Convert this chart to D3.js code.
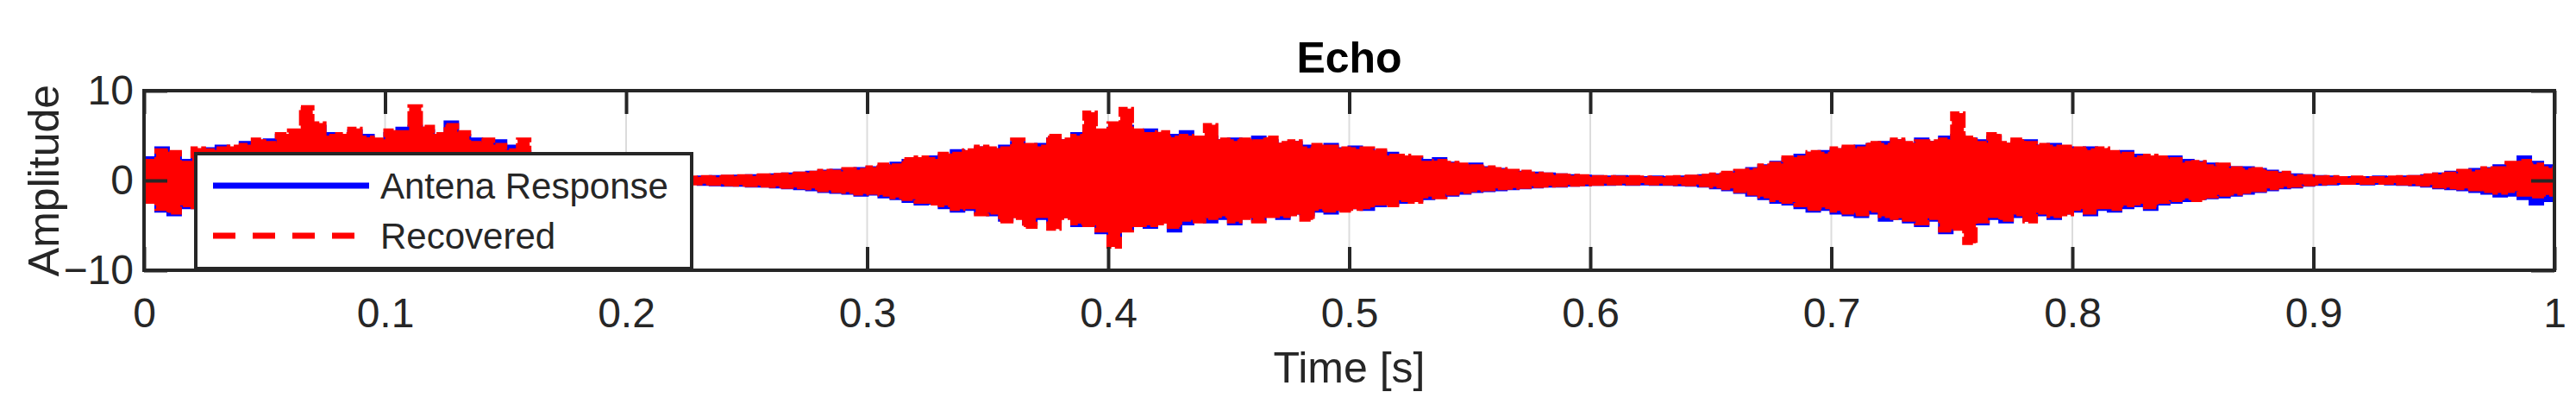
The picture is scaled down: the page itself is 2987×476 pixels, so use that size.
<!DOCTYPE html>
<html>
<head>
<meta charset="utf-8">
<script src="https://cdn.jsdelivr.net/npm/d3@7"></script>
<style>
  body { margin: 0; background: #fff; }
  text { font-family: "Liberation Sans", Arial, sans-serif; }
</style>
</head>
<body>
<svg id="chart" width="2987" height="476"></svg>
<script>
// Echo signal: per-5 ms bin upper / lower extent of the dense waveform
const dt = 0.005;
const antennaHi = [
  2.5, 3.6, 3.0, 2.2, 3.2, 3.5, 3.8, 3.5, 4.2, 4.0,
  4.5, 5.0, 4.8, 5.5, 6.0, 5.2, 4.8, 5.5, 5.0, 4.5,
  5.2, 5.8, 6.0, 5.5, 4.8, 6.5, 5.0, 4.6, 4.2, 4.4,
  3.8, 3.2, 0.5, 0.4, 0.4, 0.35, 0.35, 0.3, 0.35, 0.3,
  0.3, 0.35, 0.3, 0.3, 0.35, 0.3, 0.35, 0.4, 0.4, 0.45,
  0.5, 0.55, 0.6, 0.7, 0.8, 0.9, 1.0, 1.1, 1.2, 1.3,
  1.4, 1.6, 1.9, 2.2, 2.4, 2.6, 2.8, 3.3, 3.0, 3.6,
  3.4, 3.8, 4.2, 3.6, 4.0, 4.6, 4.4, 5.2, 5.4, 5.0,
  5.8, 6.0, 5.2, 5.6, 4.8, 5.0, 5.4, 4.6, 4.8, 4.4,
  4.6, 4.2, 4.8, 4.4, 4.0, 4.2, 3.8, 3.6, 4.0, 3.5,
  3.7, 3.4, 3.2, 3.0, 2.6, 2.4, 2.2, 2.4, 1.9, 1.6,
  1.8, 1.4, 1.2, 1.0, 0.9, 0.8, 0.7, 0.6, 0.5, 0.45,
  0.4, 0.35, 0.4, 0.35, 0.3, 0.35, 0.3, 0.35, 0.4, 0.5,
  0.6, 0.8, 1.0, 1.3, 1.6, 2.0, 2.4, 2.8, 3.0, 3.2,
  3.4, 3.6, 3.8, 4.0, 4.2, 4.4, 4.0, 4.6, 4.2, 4.8,
  5.0, 4.6, 4.4, 4.8, 4.0, 4.2, 4.4, 3.8, 4.0, 3.6,
  3.4, 3.6, 3.2, 3.0, 3.2, 2.8, 2.6, 2.4, 2.6, 2.2,
  2.0, 1.8, 1.6, 1.4, 1.4, 1.2, 1.0, 0.8, 0.6, 0.5,
  0.4, 0.35, 0.3, 0.3, 0.3, 0.35, 0.3, 0.35, 0.4, 0.5,
  0.7, 0.9, 1.0, 1.2, 1.3, 1.6, 1.8, 2.6, 2.0, 1.6
];
const antennaLo = [
  -2.0, -3.4, -3.8, -3.0, -3.0, -3.2, -3.0, -3.4, -3.0, -3.2,
  -3.4, -3.0, -3.2, -3.5, -3.0, -3.3, -3.0, -3.2, -3.4, -3.0,
  -3.2, -3.0, -3.3, -3.0, -3.2, -3.0, -2.8, -3.0, -2.6, -2.4,
  -2.0, -1.6, -0.5, -0.4, -0.45, -0.35, -0.4, -0.3, -0.35, -0.4,
  -0.3, -0.35, -0.3, -0.4, -0.35, -0.3, -0.4, -0.45, -0.5, -0.5,
  -0.6, -0.6, -0.7, -0.8, -0.9, -1.0, -1.2, -1.3, -1.4, -1.6,
  -1.5, -1.8, -2.0, -2.3, -2.6, -2.5, -3.0, -3.4, -3.2, -3.6,
  -3.8, -4.4, -3.9, -4.8, -4.2, -4.6, -4.0, -5.0, -4.6, -5.8,
  -6.4, -5.4, -4.8, -5.2, -4.6, -5.6, -4.8, -4.4, -4.6, -4.2,
  -4.8, -4.0, -4.4, -3.8, -4.2, -3.6, -3.8, -3.4, -3.6, -3.2,
  -3.0, -3.2, -2.8, -2.6, -2.4, -2.2, -2.0, -1.8, -1.6, -1.4,
  -1.2, -1.1, -1.0, -0.9, -0.8, -0.7, -0.6, -0.6, -0.5, -0.45,
  -0.4, -0.4, -0.35, -0.4, -0.35, -0.4, -0.4, -0.45, -0.5, -0.6,
  -0.8, -1.0, -1.3, -1.6, -2.0, -2.4, -2.6, -3.0, -3.4, -3.2,
  -3.6, -3.8, -4.0, -3.6, -4.4, -4.2, -4.6, -5.0, -4.4, -5.8,
  -5.2, -4.6, -4.8, -4.2, -4.6, -4.0, -4.4, -3.8, -4.2, -3.6,
  -3.4, -3.8, -3.2, -3.4, -3.0, -2.8, -3.2, -2.6, -2.4, -2.2,
  -2.0, -1.9, -1.8, -1.6, -1.4, -1.2, -1.0, -0.8, -0.7, -0.5,
  -0.4, -0.35, -0.3, -0.3, -0.35, -0.3, -0.35, -0.4, -0.45, -0.6,
  -0.8, -0.9, -1.0, -1.2, -1.4, -1.7, -1.6, -2.0, -2.6, -2.2
];
const recoveredHi = [
  2.2, 3.4, 3.2, 2.0, 3.6, 3.4, 3.6, 3.8, 4.0, 4.6,
  4.2, 5.2, 5.6, 8.2, 6.4, 5.0, 5.2, 5.8, 4.8, 4.6,
  5.6, 5.4, 8.3, 6.0, 5.2, 6.2, 5.4, 4.2, 4.6, 4.0,
  3.4, 4.6, 0.4, 0.45, 0.35, 0.4, 0.3, 0.35, 0.3, 0.35,
  0.35, 0.3, 0.35, 0.3, 0.3, 0.35, 0.4, 0.35, 0.45, 0.5,
  0.5, 0.6, 0.65, 0.7, 0.8, 0.9, 1.1, 1.0, 1.3, 1.2,
  1.5, 1.8, 1.7, 2.4, 2.6, 2.4, 3.0, 3.0, 3.4, 3.8,
  3.6, 3.6, 4.6, 4.0, 3.8, 5.0, 4.6, 5.0, 7.6, 5.6,
  6.4, 8.0, 5.6, 5.2, 5.4, 4.8, 5.0, 4.8, 6.2, 4.6,
  4.4, 4.6, 4.4, 4.8, 4.2, 4.4, 3.6, 4.0, 3.8, 3.6,
  3.5, 3.6, 3.4, 2.8, 2.8, 2.6, 2.0, 2.2, 2.0, 1.8,
  1.6, 1.5, 1.3, 1.1, 1.0, 0.8, 0.7, 0.6, 0.55, 0.5,
  0.4, 0.4, 0.35, 0.4, 0.35, 0.3, 0.35, 0.4, 0.45, 0.55,
  0.7, 0.9, 1.1, 1.2, 1.7, 1.9, 2.6, 2.6, 3.2, 3.0,
  3.6, 3.8, 3.6, 4.2, 4.0, 4.6, 4.2, 4.4, 4.4, 4.6,
  7.5, 4.8, 4.2, 5.2, 4.2, 4.6, 4.2, 4.0, 3.8, 3.8,
  3.6, 3.4, 3.6, 3.2, 3.0, 2.6, 2.8, 2.6, 2.4, 2.0,
  2.1, 1.6, 1.8, 1.4, 1.2, 1.3, 0.9, 0.9, 0.5, 0.5,
  0.35, 0.4, 0.3, 0.35, 0.3, 0.3, 0.35, 0.4, 0.4, 0.6,
  0.7, 0.8, 1.1, 1.0, 1.4, 1.4, 2.0, 2.2, 1.8, 1.4
];
const recoveredLo = [
  -2.4, -3.2, -3.6, -2.8, -3.0, -3.2, -3.0, -3.4, -3.0, -3.2,
  -3.4, -3.0, -3.2, -3.5, -3.0, -3.3, -3.0, -3.2, -3.4, -3.0,
  -3.2, -3.0, -3.3, -3.0, -3.2, -3.0, -2.8, -3.0, -2.6, -2.4,
  -2.0, -1.6, -0.45, -0.4, -0.4, -0.35, -0.35, -0.35, -0.3, -0.35,
  -0.35, -0.3, -0.35, -0.35, -0.3, -0.35, -0.35, -0.4, -0.45, -0.5,
  -0.55, -0.6, -0.65, -0.75, -0.8, -0.9, -1.1, -1.2, -1.3, -1.5,
  -1.4, -1.6, -1.9, -2.1, -2.4, -2.6, -2.8, -3.2, -3.0, -3.8,
  -3.6, -4.6, -4.2, -5.2, -4.0, -5.4, -4.2, -4.8, -5.0, -5.6,
  -7.4, -5.6, -5.0, -5.0, -4.8, -5.2, -4.4, -4.6, -4.2, -4.0,
  -4.6, -4.2, -4.6, -4.0, -4.0, -3.8, -4.4, -3.2, -3.4, -3.4,
  -3.2, -3.0, -2.6, -2.8, -2.2, -2.4, -1.8, -1.9, -1.5, -1.3,
  -1.1, -1.0, -0.9, -0.85, -0.75, -0.65, -0.6, -0.55, -0.5, -0.45,
  -0.4, -0.35, -0.35, -0.35, -0.3, -0.35, -0.35, -0.4, -0.45, -0.55,
  -0.7, -0.9, -1.2, -1.5, -1.8, -2.2, -2.4, -2.8, -3.2, -3.0,
  -3.4, -3.6, -3.8, -3.4, -4.0, -4.2, -4.4, -4.8, -4.2, -5.6,
  -5.4, -7.0, -4.6, -4.0, -4.4, -3.8, -4.6, -3.6, -4.0, -3.8,
  -3.2, -3.6, -3.0, -3.2, -2.8, -2.6, -3.0, -2.4, -2.2, -2.0,
  -2.2, -1.8, -1.6, -1.5, -1.3, -1.1, -0.9, -0.7, -0.6, -0.45,
  -0.35, -0.3, -0.3, -0.3, -0.3, -0.3, -0.3, -0.35, -0.4, -0.5,
  -0.7, -0.8, -0.9, -1.0, -1.2, -1.4, -1.2, -1.6, -1.8, -1.6
];
const xTicks = [0, 0.1, 0.2, 0.3, 0.4, 0.5, 0.6, 0.7, 0.8, 0.9, 1];
const yTicks = [-10, 0, 10];
const seriesNames = ["Antena Response", "Recovered"];

const svg = d3.select("#chart");
const mLeft = 167, mRight = 2962, mTop = 105, mBottom = 313;

const x = d3.scaleLinear().domain([0, 1]).range([mLeft, mRight]);
const y = d3.scaleLinear().domain([-10, 10]).range([mBottom, mTop]);

// grid
svg.append("g").selectAll("line")
  .data(xTicks.slice(1, -1))
  .join("line")
  .attr("x1", d => x(d)).attr("x2", d => x(d))
  .attr("y1", mTop).attr("y2", mBottom)
  .attr("stroke", "#dcdcdc").attr("stroke-width", 2);

// dense waveform drawn as its per-bin extent; the last bin is repeated to reach t = 1
function band(hi, lo) {
  const pts = hi.map((h, i) => ({t: i * dt, hi: h, lo: lo[i]}));
  pts.push({t: 1, hi: hi[hi.length - 1], lo: lo[lo.length - 1]});
  return pts;
}
const area = d3.area().x(d => x(d.t)).y0(d => y(d.lo)).y1(d => y(d.hi)).curve(d3.curveStepAfter);

svg.append("path").datum(band(antennaHi, antennaLo))
  .attr("d", area).attr("fill", "#0000ff")
  .attr("stroke", "#0000ff").attr("stroke-width", 4);
svg.append("path").datum(band(recoveredHi, recoveredLo))
  .attr("d", area).attr("fill", "#ff0000")
  .attr("stroke", "#ff0000").attr("stroke-width", 4)
  .attr("stroke-dasharray", "18,4");

// axes (ticks inward, box)
const axisColor = "#262626";
svg.append("g").attr("transform", `translate(0,${mBottom})`)
  .call(d3.axisBottom(x).tickValues(xTicks).tickSize(-27).tickPadding(32).tickFormat(d3.format("~g")))
  .call(g => g.select(".domain").remove());
svg.append("g").attr("transform", `translate(0,${mTop})`)
  .call(d3.axisTop(x).tickValues(xTicks).tickSize(-27).tickFormat(""))
  .call(g => g.select(".domain").remove());
svg.append("g").attr("transform", `translate(${mLeft},0)`)
  .call(d3.axisLeft(y).tickValues(yTicks).tickSize(-27).tickPadding(12))
  .call(g => g.select(".domain").remove());
svg.append("g").attr("transform", `translate(${mRight},0)`)
  .call(d3.axisRight(y).tickValues(yTicks).tickSize(-27).tickFormat(""))
  .call(g => g.select(".domain").remove());
svg.selectAll(".tick line").attr("stroke", axisColor).attr("stroke-width", 4);
svg.selectAll(".tick text").attr("font-size", 48).attr("fill", axisColor);

svg.append("rect").attr("x", mLeft).attr("y", mTop)
  .attr("width", mRight - mLeft).attr("height", mBottom - mTop)
  .attr("fill", "none").attr("stroke", axisColor).attr("stroke-width", 4);

// titles
svg.append("text").attr("x", (mLeft + mRight) / 2).attr("y", 84)
  .attr("text-anchor", "middle").attr("font-size", 50).attr("font-weight", "bold")
  .attr("fill", "#000").text("Echo");
svg.append("text").attr("x", (mLeft + mRight) / 2).attr("y", 443)
  .attr("text-anchor", "middle").attr("font-size", 50).attr("fill", axisColor)
  .text("Time [s]");
svg.append("text").attr("transform", `translate(68,${(mTop + mBottom) / 2}) rotate(-90)`)
  .attr("text-anchor", "middle").attr("font-size", 50).attr("fill", axisColor)
  .text("Amplitude");

// legend
const lg = svg.append("g");
lg.append("rect").attr("x", 227).attr("y", 178).attr("width", 575).attr("height", 133)
  .attr("fill", "#fff").attr("stroke", axisColor).attr("stroke-width", 4);
const legendY = [215, 273];
const legendStyle = [{c: "#0000ff", dash: null}, {c: "#ff0000", dash: "26,20"}];
seriesNames.forEach((name, i) => {
  lg.append("line").attr("x1", 247).attr("x2", 428)
    .attr("y1", legendY[i]).attr("y2", legendY[i])
    .attr("stroke", legendStyle[i].c).attr("stroke-width", 7)
    .attr("stroke-dasharray", legendStyle[i].dash);
  lg.append("text").attr("x", 441).attr("y", legendY[i] + 15)
    .attr("font-size", 42).attr("fill", axisColor).text(name);
});
</script>
</body>
</html>
